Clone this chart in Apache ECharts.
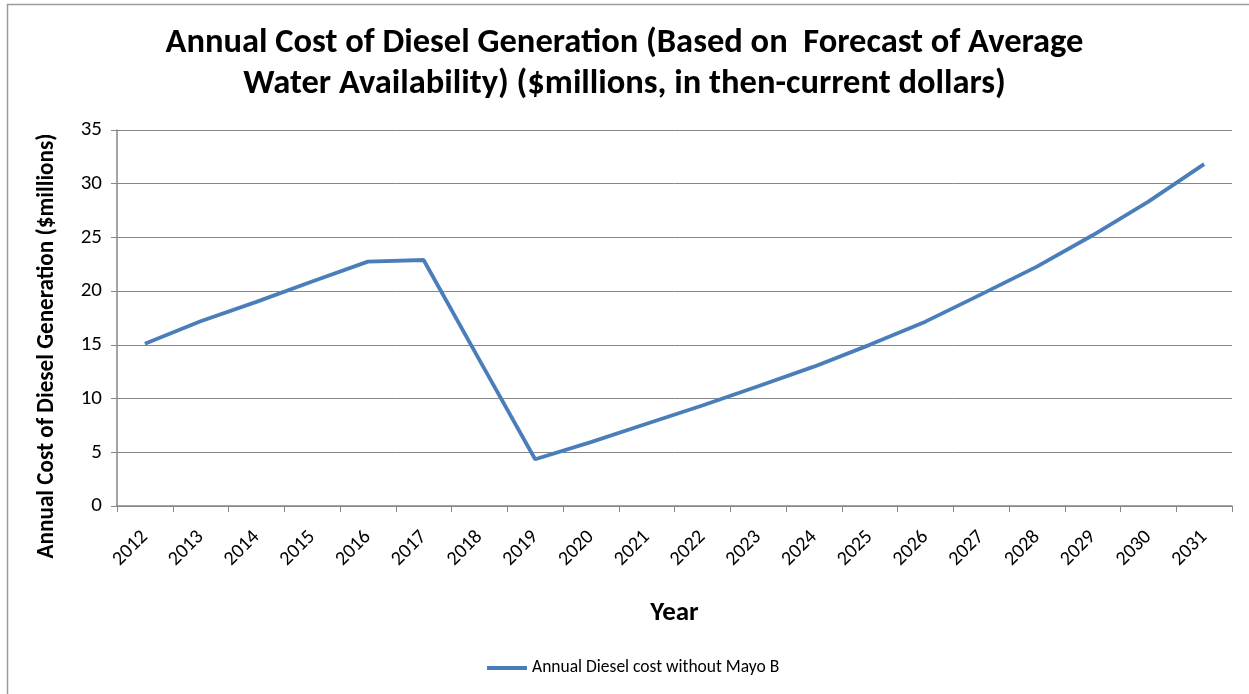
<!DOCTYPE html>
<html>
<head>
<meta charset="utf-8">
<script src="https://cdn.jsdelivr.net/npm/echarts@6/dist/echarts.min.js"></script>
<style>
  html, body { margin: 0; padding: 0; background: #ffffff; }
  #chart { width: 1249px; height: 694px; }
</style>
</head>
<body>
<div id="chart"></div>
<script>
// Forecast years and annual diesel generation cost ($ millions)
const years = ['2012','2013','2014','2015','2016','2017','2018','2019','2020','2021',
               '2022','2023','2024','2025','2026','2027','2028','2029','2030','2031'];
const dieselCost = [15.1, 17.2, 19.0, 20.9, 22.75, 22.9, 13.6, 4.35, 5.95, 7.65,
                    9.35, 11.15, 12.97, 15.0, 17.16, 19.7, 22.28, 25.2, 28.33, 31.83];
const seriesName = 'Annual Diesel cost without Mayo B';
const yTicks = { min: 0, max: 35, interval: 5 };

const FONT = 'Carlito, Calibri, Lato, "Open Sans", sans-serif';
const AXIS_GREY = '#868686';

const chart = echarts.init(document.getElementById('chart'), null, { renderer: 'canvas' });

chart.setOption({
  backgroundColor: '#ffffff',
  animation: false,
  title: {
    text: 'Annual Cost of Diesel Generation (Based on  Forecast of Average\nWater Availability) ($millions, in then-current dollars)',
    left: 'center',
    top: 18,
    textStyle: {
      fontFamily: FONT,
      fontWeight: 'bold',
      fontSize: 34.5,
      lineHeight: 41,
      color: '#000000'
    }
  },
  // outer chart-area frame
  graphic: [{
    type: 'rect',
    shape: { x: 7.5, y: 4.5, width: 1300, height: 800 },
    style: { fill: 'none', stroke: '#9a9a9a', lineWidth: 1.5 },
    silent: true
  }],
  legend: {
    data: [seriesName],
    bottom: 12,
    left: 482,
    itemWidth: 40,
    itemHeight: 4,
    icon: 'rect',
    textStyle: { fontFamily: FONT, fontSize: 17.5, color: '#000000' }
  },
  grid: { left: 117, right: 17, top: 130, bottom: 188, containLabel: false },
  xAxis: {
    type: 'category',
    data: years,
    boundaryGap: true,
    name: 'Year',
    nameLocation: 'middle',
    nameGap: 94,
    nameTextStyle: { fontFamily: FONT, fontWeight: 'bold', fontSize: 27, color: '#000000' },
    axisLine: { lineStyle: { color: AXIS_GREY, width: 1.5 } },
    axisTick: { show: true, alignWithLabel: false, length: 6, lineStyle: { color: AXIS_GREY } },
    axisLabel: {
      rotate: 45,
      margin: 28,
      fontFamily: FONT,
      fontSize: 20,
      color: '#000000'
    }
  },
  yAxis: {
    type: 'value',
    min: yTicks.min,
    max: yTicks.max,
    interval: yTicks.interval,
    name: 'Annual Cost of Diesel Generation ($millions)',
    nameLocation: 'middle',
    nameGap: 58,
    nameTextStyle: {
      fontFamily: FONT, fontWeight: 'bold', fontSize: 23.2, color: '#000000',
      padding: [0, 56, 0, 0]
    },
    axisLine: { show: true, lineStyle: { color: AXIS_GREY, width: 1.5 } },
    axisTick: { show: true, length: 6, lineStyle: { color: AXIS_GREY } },
    axisLabel: { margin: 15, fontFamily: FONT, fontSize: 21, color: '#000000' },
    splitLine: { show: true, lineStyle: { color: AXIS_GREY, width: 1 } }
  },
  series: [{
    name: seriesName,
    type: 'line',
    data: dieselCost,
    symbol: 'none',
    smooth: false,
    lineStyle: { color: '#4a7ebb', width: 3.8 },
    itemStyle: { color: '#4a7ebb' }
  }]
});
</script>
</body>
</html>
